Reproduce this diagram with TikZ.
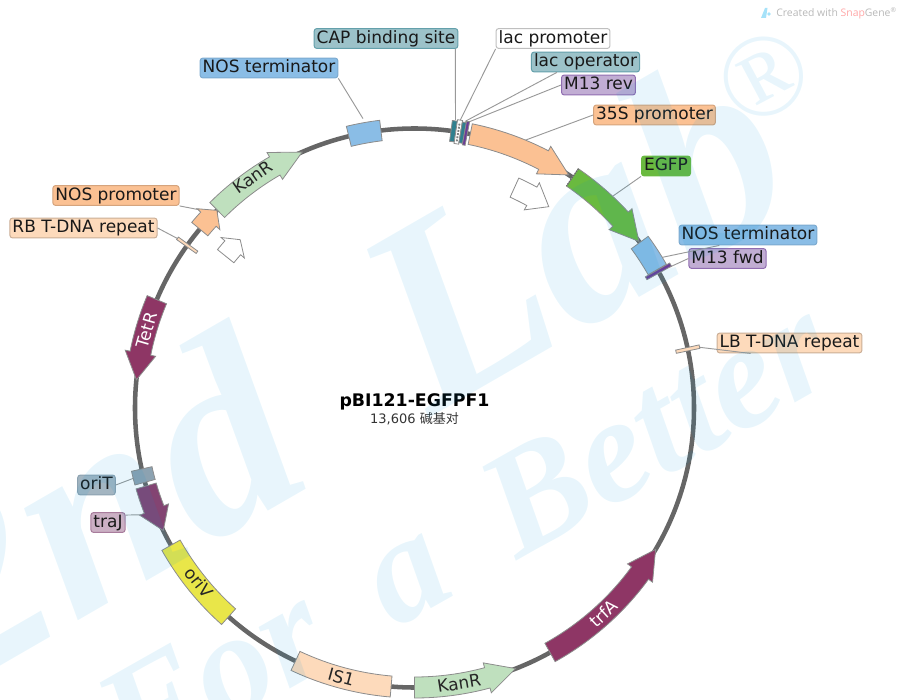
\documentclass[tikz,border=0pt]{standalone}
\usepackage{fontspec}
\setmainfont{DejaVu Sans}
\newfontfamily\wmfont{Liberation Serif}
\newfontfamily\cjkfont{Noto Sans CJK SC}
\newfontfamily\logofont{Open Sans}

% feature colours
\definecolor{cBack}{HTML}{666666}
\definecolor{cPeach}{HTML}{FBC193}
\definecolor{cPale}{HTML}{FDDABB}
\definecolor{cGreen}{HTML}{6ABA3F}
\definecolor{cBlue}{HTML}{8ABDE6}
\definecolor{cMint}{HTML}{BFE0BE}
\definecolor{cWine}{HTML}{8E3665}
\definecolor{cPlum}{HTML}{834472}
\definecolor{cSlate}{HTML}{8CA2B1}
\definecolor{cYellow}{HTML}{E9E649}
\definecolor{cTeal}{HTML}{30808F}
\definecolor{cViolet}{HTML}{6B3C97}
\definecolor{cWater}{HTML}{0095D9}

\tikzset{
  feat/.style={draw=black!45,line width=.6pt},
  leader/.style={draw=black!40,line width=.7pt},
  lab/.style={draw,rounded corners=2pt,line width=.75pt,inner xsep=1.9pt,inner ysep=1.3pt,
    text height=9.6pt,text depth=2.7pt,font=\fontsize{12.75}{14}\selectfont,text=black!90},
  labTeal/.style={lab,fill=cTeal!48!white,draw=cTeal!75!white},
  labWhite/.style={lab,fill=white,draw=black!25},
  labViolet/.style={lab,fill=cViolet!42!white,draw=cViolet!75!white},
  labPeach/.style={lab,fill=cPeach,draw=cPeach!85!black},
  labPale/.style={lab,fill=cPale,draw=cPale!80!black},
  labBlue/.style={lab,fill=cBlue,draw=cBlue!90!black},
  labGreen/.style={lab,fill=cGreen,draw=cGreen},
  labSlate/.style={lab,fill=cSlate!80!white,draw=cSlate},
  labPlum/.style={lab,fill=cPlum!42!white,draw=cPlum!70!white},
  onfeat/.style={font=\fontsize{12.75}{14}\selectfont,inner sep=0pt,text=black!85},
  ghost/.style={opacity=.09,text=cWater,inner sep=0pt,anchor=base west},
}

% fill, start angle, head angle, tip angle, radius
\newcommand{\arrowfeat}[5][279.5]{
  \draw[feat,fill=#2] ({#3}:{#1+10.5}) arc[start angle=#3,end angle=#4,radius={#1+10.5}]
    -- ({#4}:{#1+15.5}) -- ({#5}:{#1}) -- ({#4}:{#1-15.5}) -- ({#4}:{#1-10.5})
    arc[start angle=#4,end angle=#3,radius={#1-10.5}] -- cycle;
}
% fill, start angle, end angle, half width
\newcommand{\boxfeat}[4]{
  \draw[feat,fill=#1] ({#2}:{279.5+#4}) arc[start angle=#2,end angle=#3,radius={279.5+#4}]
    -- ({#3}:{279.5-#4}) arc[start angle=#3,end angle=#2,radius={279.5-#4}] -- cycle;
}

\begin{document}
\begin{tikzpicture}[x=.75pt,y=.75pt]
\useasboundingbox (-414.5,-291) rectangle (483.5,408);
\clip (-414.5,-291) rectangle (483.5,408);

% backbone
\draw[cBack,line width=3.4pt] (0,0) circle [radius=279.5];

% anchors of the leaders
\coordinate (aCap) at (81.9:291);
\coordinate (aLacP) at (81:291);
\coordinate (aLacO) at (80:291);
\coordinate (aRev) at (79.3:291);
\coordinate (aPro) at (67.7:289);
\coordinate (aNosA) at (100.1:294);
\coordinate (aEgfp) at (46.9:290);
\coordinate (aNosB) at (31.3:290);
\coordinate (aFwd) at (28.9:292);
\coordinate (aLb) at (12.4:286);
\coordinate (aNosP) at (137.4:293);
\coordinate (aRb) at (144.4:290);
\coordinate (aOriT) at (194:288);
\coordinate (aTraJ) at (201.3:294);

% leaders go below the features
\node[labTeal] (lCap) at (-28.5,369.5) {CAP binding site};
\node[labWhite] (lLacP) at (138.5,369.5) {lac promoter};
\node[labTeal] (lLacO) at (171,346) {lac operator};
\node[labViolet] (lRev) at (184,323) {M13 rev};
\node[labPeach] (lPro) at (240,293) {35S promoter};
\node[labBlue] (lNosA) at (-145.5,340) {NOS terminator};
\node[labGreen] (lEgfp) at (251.5,242) {EGFP};
\node[labBlue] (lNosB) at (333.5,173) {NOS terminator};
\node[labViolet] (lFwd) at (313,149.5) {M13 fwd};
\node[labPale] (lLb) at (375,65) {LB T-DNA repeat};
\node[labPeach] (lNosP) at (-298.5,212.5) {NOS promoter};
\node[labPale] (lRb) at (-331,180) {RB T-DNA repeat};
\node[labSlate] (lOriT) at (-318,-77) {oriT};
\node[labPlum] (lTraJ) at (-306.5,-114.5) {traJ};

\path[leader] (lCap.south east) ++(-3,0) edge (aCap)
  (lLacP.south west) edge (aLacP)
  (lLacO.200) edge (aLacO)
  (lRev.west) edge (aRev)
  (lPro.west) edge (aPro)
  (lNosA.south east) edge (aNosA)
  (lEgfp.south west) edge (aEgfp)
  (lNosB.200) edge (aNosB)
  (lFwd.west) edge (aFwd)
  (lLb.195) edge (aLb)
  (lNosP.south east) edge (aNosP)
  (lRb.east) edge (aRb)
  (lOriT.east) edge (aOriT)
  (lTraJ.north east) ++(0,-3) edge (aTraJ);

% features, clockwise from the top
\boxfeat{cTeal}{82.5}{81.5}{10.5}
\boxfeat{white}{81.5}{80.5}{12}
\draw[black!50,densely dotted,line width=1.4pt] (81:270) -- (81:289);
\boxfeat{cTeal}{80.5}{79.7}{10.5}
\boxfeat{cViolet}{79.7}{79.1}{12}
\arrowfeat{cPeach}{78.5}{62.5}{56.5}
\arrowfeat{cGreen}{55.6}{42.5}{36.6}
\draw[black!60,densely dotted,line width=.9pt] (55.6:290) -- (55.6:269);
\boxfeat{cBlue}{36.3}{29.7}{10.5}
\boxfeat{cViolet}{29.6}{28.9}{14}
\boxfeat{cPale}{12.5}{11.8}{12}
\arrowfeat{cWine}{-61}{-36.2}{-30.4}
\arrowfeat{cMint}{-90}{-74.9}{-68.8}
\boxfeat{cPale}{-115.2}{-94.8}{10.5}
\boxfeat{cYellow}{209.4}{228.3}{10.5}
\arrowfeat{cPlum}{196.2}{201.3}{206}
\boxfeat{cSlate}{192.6}{195.4}{10.5}
\arrowfeat{cWine}{157.2}{168.7}{174.2}
\boxfeat{cPale}{144.7}{144.1}{12}
\arrowfeat{cPeach}{140.2}{137.5}{135}
\arrowfeat{cMint}{134.9}{120}{113.7}
\boxfeat{cBlue}{103.6}{96.9}{10.3}

% open arrows inside the ring
\arrowfeat[242]{white}{65.6}{61}{56.3}
\arrowfeat[242.3]{white}{141.2}{138.6}{136}

% names on the features
\node[onfeat,rotate=35] (tKanA) at (125:282) {KanR};
\node[onfeat,rotate=9.2] (tKanB) at (-80.8:279) {KanR};
\node[onfeat,rotate=42.6,text=white] (tTrfA) at (-47.4:279) {trfA};
\node[onfeat,rotate=-15.2] (tIs) at (-105.2:279) {IS1};
\node[onfeat,rotate=-51] (tOriV) at (219:277) {oriV};
\node[onfeat,rotate=73.8,text=white] (tTetR) at (163.8:279) {TetR};

% plasmid name
\node[font=\fontsize{13}{15}\selectfont\bfseries,inner sep=0pt] (lName) at (0,6) {pBI121-EGFPF1};
\node[font=\fontsize{9.75}{11}\selectfont,text=black!80,inner sep=0pt] (lSize) at (0,-11) {13,606 {\cjkfont 碱基对}};

% credit line
\node[font=\logofont\fontsize{7.8}{10}\selectfont,text=black!28,anchor=east,inner sep=0pt] (lMade) at (482.5,395) {Created with \textcolor{red!35}{Snap}Gene\textsuperscript{\tiny ®}};
\fill[cyan!35!white] (346.5,390) -- (350.5,400) -- (353,400) -- (351.5,390) -- cycle;
\fill[cyan!35!white] (354.5,394) circle [radius=1.8];

% watermark over everything
\node[ghost,rotate=30] (wA) at (-458,-283.5) {\wmfont\bfseries\itshape\fontsize{202.5}{202.5}\selectfont 2nd\hspace{45pt} Lab};
\node[ghost,rotate=28,anchor=center] (wB) at (349,331) {\wmfont\fontsize{88}{88}\selectfont ®};
\node[ghost,rotate=29.5] (wC) at (-280,-369) {\wmfont\bfseries\itshape\fontsize{112.5}{112.5}\selectfont For\hspace{21pt} a\hspace{21pt} Better};
\end{tikzpicture}
\end{document}
